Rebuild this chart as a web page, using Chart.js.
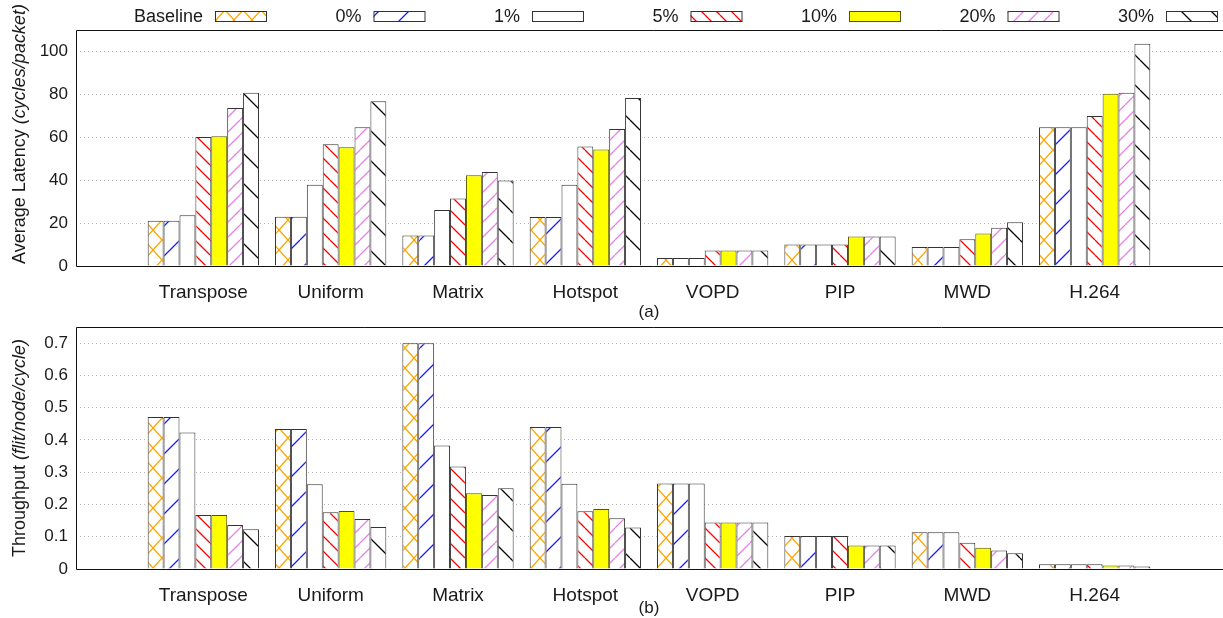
<!DOCTYPE html>
<html>
<head>
<meta charset="utf-8">
<script src="https://cdn.jsdelivr.net/npm/chart.js@4.4.1/dist/chart.umd.min.js"></script>
<style>
  html, body { margin: 0; padding: 0; background: #fff; overflow: hidden; }
  #latency { position: absolute; left: 0; top: 0; }
  #throughput { position: absolute; left: 0; top: 318px; }
</style>
</head>
<body>
<!-- plot frame runs slightly past the right edge of the window, like the original -->
<canvas id="latency" width="1229" height="325"></canvas>
<canvas id="throughput" width="1229" height="300"></canvas>
<script>
// benchmarks, x axis runs from one empty slot before to one after
const benchmarks = ["Transpose", "Uniform", "Matrix", "Hotspot", "VOPD", "PIP", "MWD", "H.264"];
const seriesNames = ["Baseline", "0%", "1%", "5%", "10%", "20%", "30%"];

// average latency (cycles/packet)
const latBaseline = [21.1, 22.9, 14.2, 22.8, 3.7, 10.0, 8.9, 64.7];
const lat0 = [21.1, 22.9, 14.2, 22.8, 3.7, 10.0, 8.9, 64.7];
const lat1 = [23.6, 37.9, 26.1, 37.9, 3.7, 10.0, 8.9, 64.7];
const lat5 = [60.1, 56.8, 31.5, 55.7, 7.2, 10.0, 12.5, 69.9];
const lat10 = [60.5, 55.4, 42.3, 54.3, 7.2, 13.7, 15.1, 80.3];
const lat20 = [73.6, 64.7, 43.8, 63.8, 7.2, 13.7, 17.8, 80.8];
const lat30 = [80.7, 76.8, 39.9, 78.3, 7.2, 13.7, 20.4, 103.6];
const latTicks = [0, 20, 40, 60, 80, 100];

// throughput (flit/node/cycle)
const thrBaseline = [0.471, 0.434, 0.700, 0.440, 0.265, 0.102, 0.114, 0.0145];
const thr0 = [0.471, 0.434, 0.700, 0.440, 0.265, 0.102, 0.114, 0.0145];
const thr1 = [0.423, 0.263, 0.383, 0.264, 0.265, 0.102, 0.114, 0.0145];
const thr5 = [0.167, 0.176, 0.318, 0.179, 0.144, 0.102, 0.081, 0.0145];
const thr10 = [0.167, 0.180, 0.235, 0.186, 0.144, 0.073, 0.066, 0.011];
const thr20 = [0.136, 0.155, 0.229, 0.157, 0.144, 0.073, 0.057, 0.011];
const thr30 = [0.123, 0.130, 0.250, 0.129, 0.144, 0.073, 0.049, 0.008];
const thrTicks = [0, 0.1, 0.2, 0.3, 0.4, 0.5, 0.6, 0.7];

const FONT = "'Liberation Sans', Arial, sans-serif";
const TEXT = "#1a1a1a";
Chart.defaults.font.family = FONT;
Chart.defaults.color = TEXT;

// gnuplot-ish fill patterns
function makePattern(kind, color, w, h) {
  const c = document.createElement("canvas");
  c.width = w; c.height = h;
  const g = c.getContext("2d");
  g.fillStyle = "#fff";
  g.fillRect(0, 0, w, h);
  g.strokeStyle = color;
  g.lineWidth = 1.3;
  g.beginPath();
  for (const d of [-w, 0, w]) {
    if (kind === "/" || kind === "x") {
      g.moveTo(d, h); g.lineTo(d + w, 0);
    }
    if (kind === "\\" || kind === "x") {
      g.moveTo(d, 0); g.lineTo(d + w, h);
    }
  }
  g.stroke();
  return g.createPattern(c, "repeat");
}

const fills = [
  makePattern("x", "#ffa500", 18, 20),
  makePattern("/", "#1a1aff", 30, 30),
  "#ffffff",
  makePattern("\\", "#ff0000", 15, 15),
  "#ffff00",
  makePattern("/", "#e680e6", 15, 15),
  makePattern("\\", "#000000", 30, 30),
];
const borders = ["#333", "#333", "#333", "#333", "#555500", "#333", "#333"];

const labels = [""].concat(benchmarks, [""]);
const pad = (arr) => [null].concat(arr, [null]);

function makeDatasets(lists) {
  return lists.map((vals, i) => ({
    label: seriesNames[i],
    data: pad(vals),
    backgroundColor: fills[i],
    borderColor: borders[i],
    borderWidth: 1,
    borderSkipped: "start",
    categoryPercentage: 0.874,
    barPercentage: 1.0,
  }));
}

// frame: left, top, bottom
const framePlugin = {
  id: "frame",
  afterDatasetsDraw(chart) {
    const { ctx, chartArea: a } = chart;
    ctx.save();
    ctx.strokeStyle = "#111";
    ctx.lineWidth = 1;
    ctx.beginPath();
    ctx.moveTo(chart.width + 2, Math.round(a.top) + 0.5);
    ctx.lineTo(Math.round(a.left) + 0.5, Math.round(a.top) + 0.5);
    ctx.lineTo(Math.round(a.left) + 0.5, Math.round(a.bottom) + 0.5);
    ctx.lineTo(chart.width + 2, Math.round(a.bottom) + 0.5);
    ctx.stroke();
    ctx.restore();
  },
};

// y title with italic unit part
const yTitlePlugin = {
  id: "yTitle",
  afterDraw(chart, args, opts) {
    const { ctx, chartArea: a } = chart;
    ctx.save();
    const f1 = "18px " + FONT;
    const f2 = "italic 18px " + FONT;
    ctx.font = f1;
    const w1 = ctx.measureText(opts.main).width;
    ctx.font = f2;
    const w2 = ctx.measureText(opts.unit).width;
    ctx.translate(opts.x, (a.top + a.bottom) / 2 + (opts.dy || 0));
    ctx.rotate(-Math.PI / 2);
    ctx.fillStyle = TEXT;
    ctx.textBaseline = "middle";
    ctx.textAlign = "left";
    const x0 = -(w1 + w2) / 2;
    ctx.font = f1;
    ctx.fillText(opts.main, x0, 0);
    ctx.font = f2;
    ctx.fillText(opts.unit, x0 + w1, 0);
    ctx.restore();
  },
};

// legend row across the top: text then swatch
const legendPlugin = {
  id: "topLegend",
  afterDraw(chart) {
    const { ctx } = chart;
    ctx.save();
    ctx.font = "18px " + FONT;
    ctx.textAlign = "right";
    ctx.textBaseline = "middle";
    chart.data.datasets.forEach((ds, i) => {
      const sx = 215 + i * 158.5;
      ctx.fillStyle = TEXT;
      ctx.fillText(ds.label, sx - 12, 17);
      ctx.fillStyle = ds.backgroundColor;
      ctx.fillRect(sx, 11, 52, 11);
      ctx.strokeStyle = ds.borderColor;
      ctx.lineWidth = 1;
      ctx.strokeRect(sx + 0.5, 11.5, 51, 10);
    });
    ctx.restore();
  },
};

function buildChart(id, lists, opt) {
  return new Chart(document.getElementById(id), {
    type: "bar",
    data: { labels: labels, datasets: makeDatasets(lists) },
    plugins: opt.plugins,
    options: {
      responsive: false,
      animation: false,
      events: [],
      layout: { padding: { top: opt.padTop, left: 0, right: 0, bottom: 0 } },
      plugins: {
        legend: { display: false },
        tooltip: { enabled: false },
        yTitle: opt.yTitle,
      },
      scales: {
        x: {
          type: "category",
          offset: false,
          grid: { display: false },
          border: { display: false },
          ticks: { font: { size: 19 }, padding: 7, maxRotation: 0, autoSkip: false },
          title: {
            display: true,
            text: opt.caption,
            font: { size: 17, lineHeight: 1 },
            padding: { top: 0, bottom: opt.captionPad },
          },
          afterFit(scale) { scale.height = opt.xHeight; },
        },
        y: {
          min: 0,
          max: opt.yMax,
          ticks: { font: { size: 17 }, padding: 8 },
          grid: {
            drawTicks: false,
            color: (c) => (c.tick && c.tick.value === 0 ? "rgba(0,0,0,0)" : "#b4b4b4"),
          },
          border: { display: false, dash: [1, 3] },
          afterBuildTicks(scale) {
            scale.ticks = opt.yTicks.map((v) => ({ value: v }));
          },
          afterFit(scale) {
            scale.width = 76;
            scale.paddingTop = 0;
            scale.paddingBottom = 0;
          },
        },
      },
    },
  });
}

buildChart("latency", [latBaseline, lat0, lat1, lat5, lat10, lat20, lat30], {
  plugins: [framePlugin, yTitlePlugin, legendPlugin],
  padTop: 30,
  xHeight: 59,
  caption: "(a)",
  captionPad: 4,
  yMax: 110,
  yTicks: latTicks,
  yTitle: { main: "Average Latency ", unit: "(cycles/packet)", x: 20, dy: -14 },
});

buildChart("throughput", [thrBaseline, thr0, thr1, thr5, thr10, thr20, thr30], {
  plugins: [framePlugin, yTitlePlugin],
  padTop: 9,
  xHeight: 49,
  caption: "(b)",
  captionPad: 1,
  yMax: 0.75,
  yTicks: thrTicks,
  yTitle: { main: "Throughput ", unit: "(flit/node/cycle)", x: 20, dy: 0 },
});
</script>
</body>
</html>
